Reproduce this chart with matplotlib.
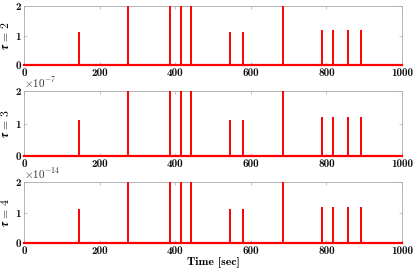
import matplotlib
matplotlib.use("Agg")
import matplotlib.pyplot as plt
from matplotlib.ticker import FuncFormatter
import numpy as np

plt.rcParams['font.family'] = 'serif'
plt.rcParams['font.serif'] = ['cmb10']
plt.rcParams['mathtext.fontset'] = 'cm'

# spike times [sec] (shared by all three panels)
spike_times = [146, 275, 386, 415, 441, 546, 580, 684, 788, 818, 857, 891]
# spike heights for each tau
heights_tau2 = [1.11, 2.0, 2.0, 2.0, 2.0, 1.11, 1.11, 2.0, 1.19, 1.19, 1.19, 1.19]
heights_tau3 = [1.12, 2.0, 2.0, 2.0, 2.0, 1.12, 1.12, 2.0, 1.2, 1.2, 1.2, 1.2]
heights_tau4 = [1.12, 2.0, 2.0, 2.0, 2.0, 1.12, 1.12, 2.0, 1.2, 1.2, 1.2, 1.2]
exponents = [0, -7, -14]
tau_labels = [r'$\boldsymbol{\tau}\,\mathbf{=\,2}$', r'$\boldsymbol{\tau}\,\mathbf{=\,3}$',
              r'$\boldsymbol{\tau}\,\mathbf{=\,4}$']
xticks = [0, 200, 400, 600, 800, 1000]

fig = plt.figure(figsize=(4.15, 2.75), dpi=100)
W, H = 415, 275
boxes = [(6.3, 65), (91, 156), (182.3, 243)]
left, right = 24, 402
for i, (hts, ex, lab) in enumerate(zip([heights_tau2, heights_tau3, heights_tau4], exponents, tau_labels)):
    sc = 10.0 ** ex
    top, bot = boxes[i]
    ax = fig.add_axes([left / W, 1 - bot / H, (right - left) / W, (bot - top) / H])
    vals = np.array(hts) * sc
    ax.vlines(spike_times, 0, vals, color='#ff0000', lw=1.4, zorder=3)
    ax.plot([0, 1000], [0, 0], color='#ff0000', lw=1.6, zorder=3, clip_on=False)
    ax.set_xlim(0, 1000)
    ax.set_ylim(0, 2 * sc)
    ax.set_xticks(xticks)
    ax.set_yticks([0, 1 * sc, 2 * sc])
    ax.yaxis.set_major_formatter(FuncFormatter(lambda v, p, s=sc: '%d' % round(v / s)))
    ax.tick_params(direction='in', length=2.5, width=0.5, color='#aaaaaa',
                   labelsize=8, top=True, right=True, pad=2, labelcolor='#111111')
    for s in ax.spines.values():
        s.set_color('#aaaaaa')
        s.set_linewidth(0.6)
    ax.set_ylabel(lab, fontsize=8.5)
    ax.yaxis.set_label_coords(-0.035, 0.5)
    if ex != 0:
        ax.text(0.0, 1.015, r'$\times 10^{%d}$' % ex, transform=ax.transAxes,
                fontsize=8, color='#333333', ha='left', va='bottom')
    if i == 2:
        ax.set_xlabel('Time [sec]', fontsize=8.5, labelpad=0)

fig.savefig('out.png', dpi=100)
